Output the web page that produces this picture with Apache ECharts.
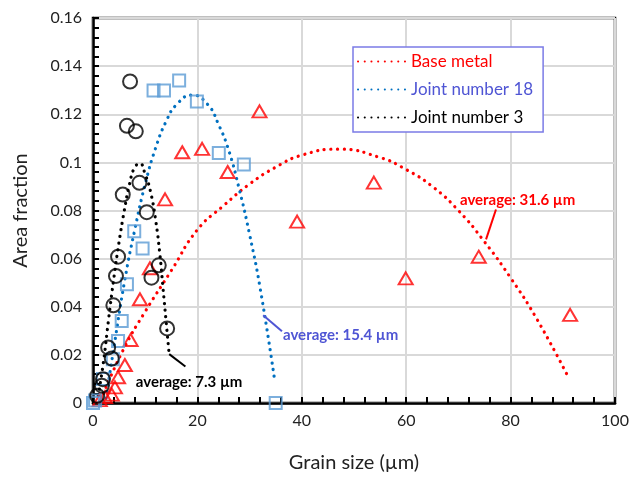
<!DOCTYPE html>
<html>
<head>
<meta charset="utf-8">
<script src="https://cdn.jsdelivr.net/npm/echarts@6/dist/echarts.min.js"></script>
<style>
  html, body {margin: 0; padding: 0; background: #fff;}
  #chart {width: 632px; height: 478px;}
</style>
</head>
<body>
<div id="chart"></div>
<script>
// measured points (grain size in µm, area fraction)
const baseX = [1.3, 2.3, 3.6, 4.2, 4.8, 6.1, 7.2, 9.0, 10.9, 13.8, 17.1, 20.9, 25.8, 31.9, 39.1, 53.8, 59.9, 73.9, 91.4]
const baseY = [0.0012, 0.0025, 0.0035, 0.0065, 0.0107, 0.0158, 0.0262, 0.0431, 0.056, 0.0846, 0.1042, 0.1056, 0.096, 0.1212, 0.0754, 0.0916, 0.0518, 0.0608, 0.0366]
const j18X = [0, 0.4, 1.9, 3.8, 4.8, 5.5, 6.5, 7.9, 9.5, 11.6, 13.6, 16.5, 19.9, 24.1, 28.9, 35]
const j18Y = [0, 0.001, 0.01, 0.0182, 0.0258, 0.0341, 0.0493, 0.0714, 0.0642, 0.1299, 0.1299, 0.134, 0.1253, 0.1039, 0.0991, 0]
const j3X = [0.8, 1.7, 1.9, 2.9, 3.6, 3.9, 4.4, 4.8, 5.7, 6.5, 7.1, 8.2, 8.9, 10.3, 11.2, 12.6, 14.2]
const j3Y = [0.003, 0.0072, 0.0099, 0.0231, 0.0185, 0.0406, 0.0528, 0.0608, 0.0866, 0.1152, 0.1336, 0.1129, 0.0915, 0.0793, 0.0521, 0.0572, 0.031]

// fitted curves
const baseFitX = [2, 6, 10, 15, 20, 25, 30, 35, 40, 47, 55, 60, 65, 70, 75, 80, 85, 91]
const baseFitY = [0.004, 0.023, 0.038, 0.055, 0.072, 0.082, 0.091, 0.098, 0.103, 0.1055, 0.102, 0.097, 0.09, 0.08, 0.067, 0.052, 0.035, 0.011]
const j18FitX = [2.5, 4, 6, 8, 10, 12, 14, 16, 19, 22, 24, 26, 28, 30, 32, 34.7]
const j18FitY = [0.002, 0.023, 0.05, 0.072, 0.091, 0.106, 0.117, 0.124, 0.128, 0.124, 0.116, 0.105, 0.089, 0.07, 0.048, 0.011]
const j3FitX = [1, 2, 3, 4, 5, 6, 7, 8, 9, 10, 11, 12, 12.8, 13.4, 14, 14.6]
const j3FitY = [0.003, 0.017, 0.035, 0.052, 0.067, 0.08, 0.091, 0.098, 0.0995, 0.095, 0.088, 0.076, 0.062, 0.048, 0.034, 0.02]

const names = ["Base metal", "Joint number 18", "Joint number 3"]
const averages = ["average: 31.6 µm", "average: 15.4 µm", "average: 7.3 µm"]

const zip = (xs, ys) => xs.map((x, i) => [x, ys[i]])
const font = "Lato, 'Open Sans', sans-serif"

const chart = echarts.init(document.getElementById("chart"))

const dotted = (color) => ({color: color, width: 3.2, type: [0.1, 6.6], cap: "round"})

const hollow = (color, w) => ({color: "rgba(0,0,0,0)", borderColor: color, borderWidth: w})

const option = {
  animation: false,
  grid: {
    left: 93, right: 17, top: 18, bottom: 74,
    show: true, borderColor: "#000", borderWidth: 2.5
  },
  legend: {
    left: 353, top: 47, width: 215,
    orient: "vertical",
    itemWidth: 48, itemHeight: 10, itemGap: 11,
    padding: [6, 10, 6, 4],
    borderColor: "#7b7be6", borderWidth: 1.5, backgroundColor: "#fff",
    itemStyle: {opacity: 0},
    textStyle: {fontFamily: font, fontSize: 17},
    data: [
      {name: names[0], textStyle: {color: "#ff0000"}},
      {name: names[1], textStyle: {color: "#4f55d4"}},
      {name: names[2], textStyle: {color: "#000"}}
    ]
  },
  xAxis: {
    type: "value", min: 0, max: 100, interval: 20,
    name: "Grain size (µm)", nameLocation: "middle", nameGap: 50,
    nameTextStyle: {fontFamily: font, fontSize: 20, color: "#222"},
    axisLine: {lineStyle: {color: "#000", width: 2.5}},
    axisTick: {inside: true, length: 6, lineStyle: {color: "#000", width: 2}},
    minorTick: {show: true, splitNumber: 5, length: 6, lineStyle: {color: "#000", width: 2}},
    axisLabel: {fontFamily: font, fontSize: 16, color: "#222", margin: 10},
    splitLine: {lineStyle: {color: "#d9d9d9", width: 2}}
  },
  yAxis: {
    type: "value", min: 0, max: 0.16, interval: 0.02,
    name: "Area fraction", nameLocation: "middle", nameGap: 62,
    nameTextStyle: {fontFamily: font, fontSize: 20, color: "#222"},
    axisLine: {lineStyle: {color: "#000", width: 2.5}},
    axisTick: {inside: true, length: 6, lineStyle: {color: "#000", width: 2}},
    minorTick: {show: true, splitNumber: 5, length: 6, lineStyle: {color: "#000", width: 2}},
    axisLabel: {fontFamily: font, fontSize: 16, color: "#222", margin: 11},
    splitLine: {lineStyle: {color: "#d9d9d9", width: 2}}
  },
  series: [
    {name: names[0], type: "line", smooth: true, symbol: "none", data: zip(baseFitX, baseFitY),
      lineStyle: dotted("#ff0000"), itemStyle: {color: "#ff0000"}, z: 3},
    {name: names[1], type: "line", smooth: true, symbol: "none", data: zip(j18FitX, j18FitY),
      lineStyle: dotted("#0070c0"), itemStyle: {color: "#0070c0"}, z: 3},
    {name: names[2], type: "line", smooth: true, symbol: "none", data: zip(j3FitX, j3FitY),
      lineStyle: dotted("#000"), itemStyle: {color: "#000"}, z: 3},
    {name: "base pts", type: "scatter", symbol: "triangle", symbolSize: [14, 12],
      data: zip(baseX, baseY), itemStyle: hollow("#ff0000", 2), z: 4},
    {name: "j18 pts", type: "scatter", symbol: "rect", symbolSize: 12,
      data: zip(j18X, j18Y), itemStyle: hollow("#5b9bd5", 2), z: 4},
    {name: "j3 pts", type: "scatter", symbol: "circle", symbolSize: 14,
      data: zip(j3X, j3Y), itemStyle: hollow("#000", 2), z: 4}
  ]
}
chart.setOption(option)

// leader lines and labels for the averages, anchored in data space
const notes = [
  {from: [77.2, 0.0804], to: [75.3, 0.068], text: [70.3, 0.0841], color: "#ff0000", label: averages[0]},
  {from: [32.6, 0.0365], to: [36.2, 0.0298], text: [36.4, 0.0283], color: "#4f55d4", label: averages[1]},
  {from: [14.6, 0.0203], to: [17.7, 0.0152], text: [8.2, 0.0088], color: "#000", label: averages[2]}
]
const px = (p) => chart.convertToPixel({gridIndex: 0}, p)
const graphics = []
notes.forEach((n) => {
  const a = px(n.from), b = px(n.to), t = px(n.text)
  graphics.push({type: "line", shape: {x1: a[0], y1: a[1], x2: b[0], y2: b[1]},
    style: {stroke: n.color, lineWidth: 2}, z: 10})
  graphics.push({type: "text", x: t[0], y: t[1], z: 10,
    style: {text: n.label, fill: n.color, font: "bold 15px " + font, verticalAlign: "middle"}})
})
chart.setOption({graphic: graphics})
</script>
</body>
</html>
